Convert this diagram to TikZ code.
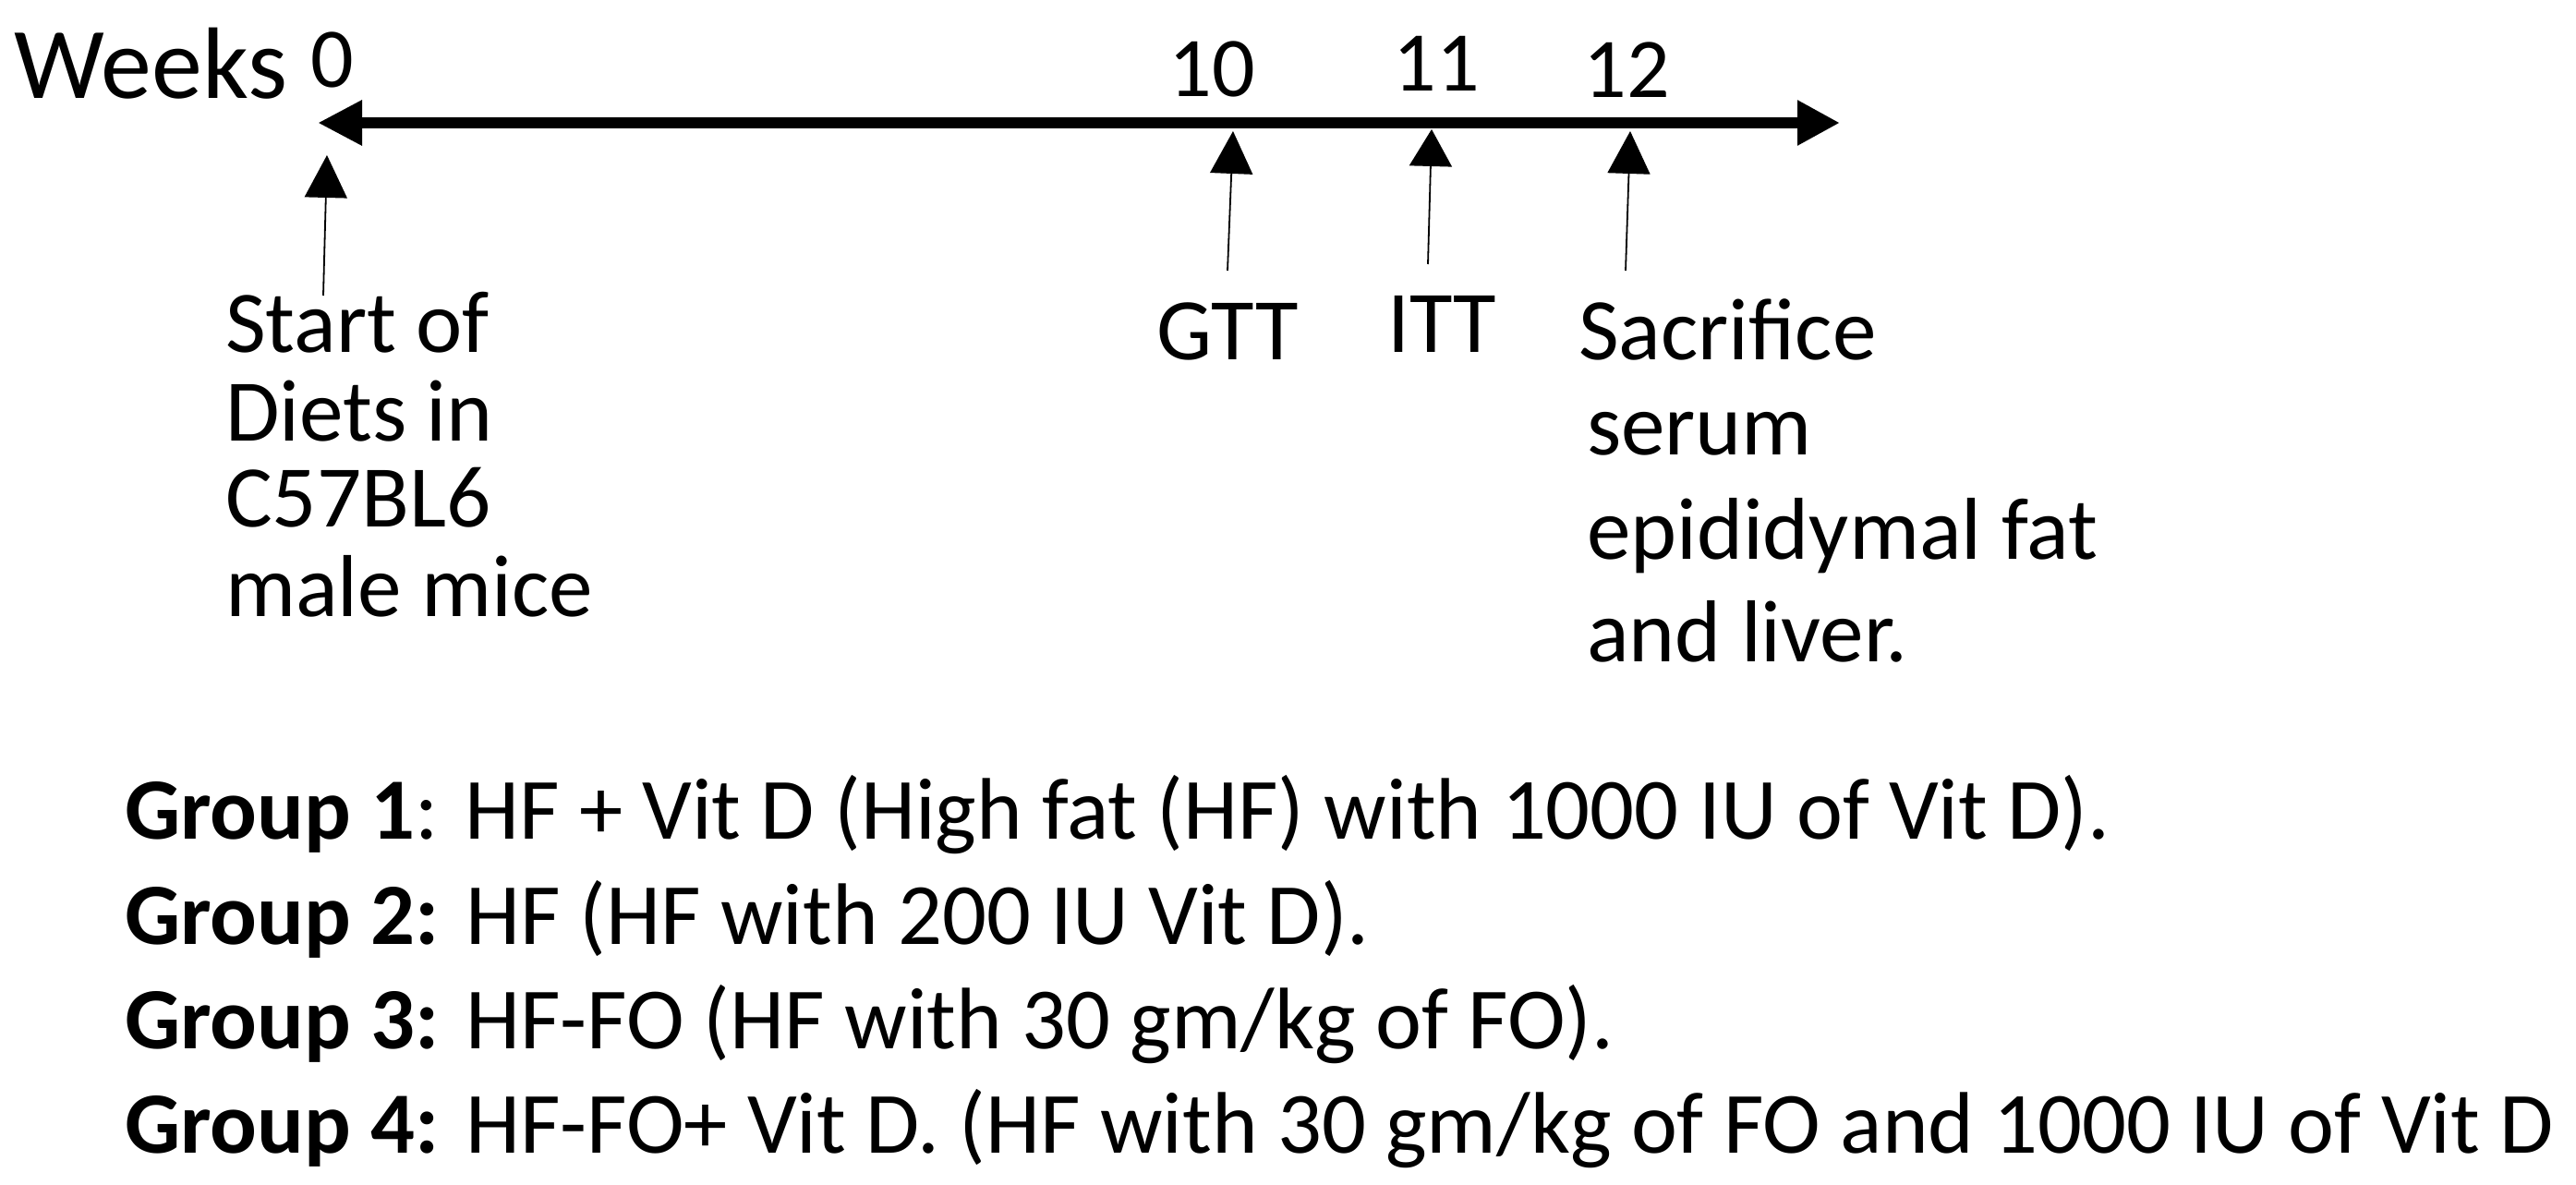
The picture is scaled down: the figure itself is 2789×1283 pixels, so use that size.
\documentclass[tikz,border=0pt]{standalone}
\usepackage{fontspec}
\setmainfont{Carlito}
\usetikzlibrary{arrows.meta}
\begin{document}
\begin{tikzpicture}[x=0.5pt,y=-0.5pt,
  txt/.style={inner sep=0pt, outer sep=0pt, anchor=base west, font=\fontsize{47.6}{57}\selectfont},
  num/.style={inner sep=0pt, outer sep=0pt, anchor=base, font=\fontsize{46}{55}\selectfont},
  grp/.style={inner sep=0pt, outer sep=0pt, anchor=base west, font=\fontsize{47.3}{57}\selectfont},
  axis/.style={line width=6pt, {Triangle[length=24pt,width=23pt]}-{Triangle[length=23pt,width=23pt]}},
  marker/.style={line width=0.9pt, -{Triangle[length=23pt,width=23pt]}}]
\useasboundingbox (0,0) rectangle (2789,1283);
% timeline
\coordinate (axL) at (344,133);
\coordinate (axR) at (1992,133);
\draw[axis] (axL) -- (axR);
% week labels
\node[txt, font=\fontsize{55}{66}\selectfont] (weeks) at (16,107) {Weeks};
\node[num] (w0) at (360,95) {0};
\node[num] (w10) at (1312,105) {10};
\node[num] (w11) at (1555,99) {11};
\node[num] (w12) at (1761,106) {12};
% marker arrows
\coordinate (m0t) at (350,320);  \coordinate (m0h) at (354,168);
\coordinate (m10t) at (1329,293); \coordinate (m10h) at (1335,142);
\coordinate (m11t) at (1546,286); \coordinate (m11h) at (1550,140);
\coordinate (m12t) at (1760,293); \coordinate (m12h) at (1765,142);
\draw[marker] (m0t) -- (m0h);
\draw[marker] (m10t) -- (m10h);
\draw[marker, -{Triangle[length=20pt,width=23pt]}] (m11t) -- (m11h);
\draw[marker] (m12t) -- (m12h);
% event labels
\node[txt] (s1) at (244,382) {Start of};
\node[txt] (s2) at (244,477) {Diets in};
\node[txt] (s3) at (244,570) {C57BL6};
\node[txt] (s4) at (244,667) {male mice};
\node[txt] (gtt) at (1252,390) {GTT};
\node[txt] (itt) at (1502,382) {ITT};
\node[txt] (sac1) at (1709,390) {Sacrifice};
\node[txt] (sac2) at (1718,493) {serum};
\node[txt] (sac3) at (1718,605) {epididymal fat};
\node[txt] (sac4) at (1718,716) {and liver.};
% groups
\node[grp] (g1) at (135,908) {\textbf{Group 1}: HF + Vit D (High fat (HF) with 1000 IU of Vit D).};
\node[grp] (g2) at (135,1022) {\textbf{Group 2:} HF (HF with 200 IU Vit D).};
\node[grp] (g3) at (135,1135) {\textbf{Group 3:} HF-FO (HF with 30 gm/kg of FO).};
\node[grp] (g4) at (135,1248) {\textbf{Group 4:} HF-FO+ Vit D. (HF with 30 gm/kg of FO and 1000 IU of Vit D};
\end{tikzpicture}
\end{document}
